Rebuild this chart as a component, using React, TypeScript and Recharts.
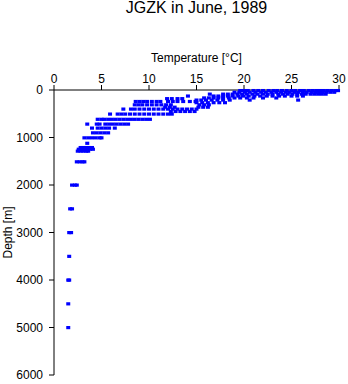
import { ScatterChart, Scatter, XAxis, YAxis } from "recharts";

// Temperature profile casts as [depth m, temps °C at that depth]
const surfaceRows: [number, number[]][] = [
  [10, [19.6, 20.0, 20.4, 21.0, 21.5, 22.0, 22.6, 23.1, 23.5, 24.0, 24.5, 25.0, 25.4, 25.9, 26.3, 26.8, 27.2, 27.6, 28.0, 28.4, 28.8, 29.2, 29.6, 29.9]],
  [45, [19.0, 19.5, 20.1, 20.6, 21.2, 21.8, 22.3, 22.9, 23.4, 23.9, 24.4, 24.8, 25.3, 25.7, 26.2, 26.6, 27.1, 27.5, 27.9, 28.3, 28.7, 29.1, 29.5]],
  [85, [16.4, 17.8, 18.3, 18.8, 19.3, 19.8, 20.3, 20.9, 21.4, 22.0, 22.5, 23.0, 23.6, 24.1, 24.6, 25.1, 25.6, 26.1, 26.5, 27.0, 27.4, 27.8, 28.2, 28.6]],
  [125, [14.1, 16.8, 17.3, 17.8, 18.3, 18.8, 19.4, 19.9, 20.5, 21.1, 21.7, 22.4, 23.0, 23.7, 24.3, 25.0, 25.6, 26.2]],
  [165, [15.8, 16.3, 16.8, 17.3, 17.8, 18.4, 19.0, 19.6, 20.3, 21.0, 22.0, 23.4]],
  [210, [15.0, 15.5, 16.0, 16.6, 17.2, 17.8, 18.5, 20.6, 25.7]],
  [265, [15.0, 15.6, 16.2, 16.8, 17.4, 18.0]],
];

const thermoclineRows: [number, number[]][] = [
  [180, [11.9, 12.4, 13.0, 13.5]],
  [240, [8.6, 9.0, 9.4, 9.8, 10.3, 10.8, 11.2, 12.0, 12.5, 13.0, 13.6, 14.3, 14.9]],
  [310, [8.5, 8.9, 9.3, 9.8, 10.3, 10.8, 11.3, 11.8, 12.3, 15.3, 15.8, 16.3]],
  [360, [11.7, 12.2, 12.7, 15.2, 15.7, 16.2]],
  [400, [7.3, 8.1, 8.5, 9.0, 9.5, 10.0, 10.5, 11.0, 11.5, 12.0, 12.5, 13.0, 13.5, 14.0, 14.5, 15.0]],
  [450, [12.3, 12.8, 13.3, 13.8, 14.3, 14.8]],
  [505, [5.9, 6.7, 7.1, 7.5, 8.0, 8.5, 9.0, 9.5, 10.0, 10.5, 11.0, 11.5, 12.0, 12.4]],
  [615, [4.6, 5.0, 5.3, 5.7, 6.1, 6.5, 6.9, 7.3, 7.7, 8.1, 8.5, 8.9, 9.3, 9.7, 10.1]],
  [716, [3.5, 4.5, 4.8, 5.4, 5.8, 6.2, 6.6, 7.0, 7.4, 7.8]],
  [800, [4.0, 4.6, 5.0, 5.4, 5.8, 6.4]],
  [900, [4.1, 4.5, 4.9, 5.3, 5.7]],
  [1005, [3.2, 3.6, 4.0, 4.4, 4.8, 5.0]],
  [1120, [3.5]],
  [1210, [2.8, 3.1, 3.4, 3.7, 4.0]],
  [1245, [2.6, 2.9, 3.2, 3.5, 3.8, 4.1]],
  [1285, [2.5, 2.8, 3.1, 3.4, 3.6]],
  [1510, [2.4, 2.7, 3.0, 3.2]],
];

const deepRows: [number, number[]][] = [
  [2000, [1.9, 2.2, 2.4]],
  [2500, [1.7, 1.9]],
  [3000, [1.6, 1.8]],
  [3500, [1.6]],
  [4000, [1.5, 1.6]],
  [4500, [1.5]],
  [5000, [1.5]],
];

const tempTicks = [0, 5, 10, 15, 20, 25, 30];
const depthTicks = [0, 1000, 2000, 3000, 4000, 5000, 6000];

const FONT = "'Liberation Sans', Arial, sans-serif";

const points = [...surfaceRows, ...thermoclineRows, ...deepRows].flatMap(([d, ts]) =>
  ts.map((t) => ({ t, d }))
);

// small filled dash, like the original plotter marks
function Dot(props: any) {
  const { cx, cy } = props;
  if (cx == null || cy == null) return null;
  return <rect x={cx - 2} y={cy - 1.5} width={4} height={3.2} fill="#0000ff" />;
}

function DepthLabel(props: any) {
  const vb = props.viewBox || {};
  const x = (vb.x ?? 0) + 4;
  const y = (vb.y ?? 0) + (vb.height ?? 0) / 2;
  return (
    <text
      x={x}
      y={y}
      transform={`rotate(-90 ${x} ${y})`}
      textAnchor="middle"
      dominantBaseline="central"
      fontSize={12}
      fontFamily={FONT}
      fill="#000"
    >
      Depth [m]
    </text>
  );
}

export default function App() {
  return (
    <div style={{ position: "absolute", left: 0, top: 0, width: 348, height: 384, background: "#fff" }}>
      <div
        style={{
          position: "absolute",
          left: 54,
          top: -1,
          width: 285,
          textAlign: "center",
          fontFamily: FONT,
          fontSize: 16,
          lineHeight: "18px",
          color: "#000",
        }}
      >
        JGZK in June, 1989
      </div>
      <ScatterChart width={348} height={384} margin={{ top: 50, right: 9, bottom: 9, left: 4 }}>
        <XAxis
          type="number"
          dataKey="t"
          orientation="top"
          domain={[0, 30]}
          ticks={tempTicks}
          height={40}
          axisLine={{ stroke: "#000" }}
          tickLine={{ stroke: "#000" }}
          tickSize={5}
          tickMargin={2}
          tick={{ fontSize: 12, fontFamily: FONT, fill: "#000" }}
          label={{
            value: "Temperature [°C]",
            position: "insideTop",
            offset: 3,
            style: { fontSize: 12, fontFamily: FONT, fill: "#000" },
          }}
        />
        <YAxis
          type="number"
          dataKey="d"
          reversed
          domain={[0, 6000]}
          ticks={depthTicks}
          width={50}
          axisLine={{ stroke: "#000" }}
          tickLine={{ stroke: "#000" }}
          tickSize={5}
          tickMargin={6}
          tick={{ fontSize: 12, fontFamily: FONT, fill: "#000" }}
          label={<DepthLabel />}
        />
        <Scatter data={points} shape={<Dot />} isAnimationActive={false} />
      </ScatterChart>
    </div>
  );
}
